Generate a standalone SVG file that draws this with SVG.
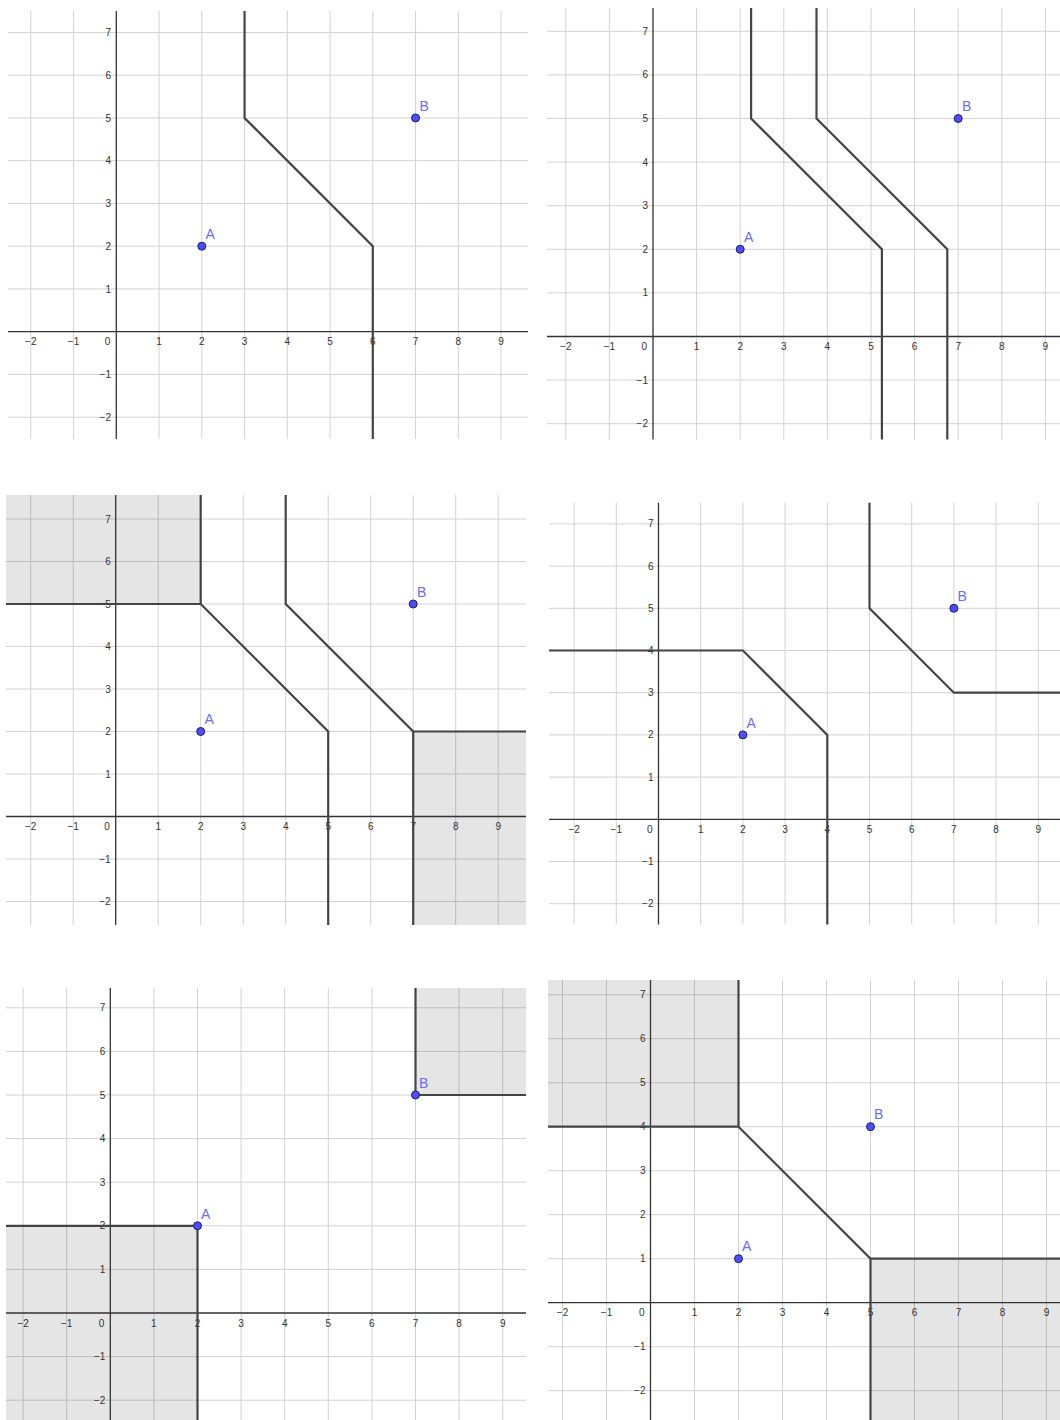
<svg xmlns="http://www.w3.org/2000/svg" width="1060" height="1420" viewBox="0 0 1060 1420">
<style>
.grid{fill:none;stroke:#d2d2d2;stroke-width:1}
.axis{fill:none;stroke:#333;stroke-width:1.3}
.curve{fill:none;stroke:#444;stroke-width:2.2;stroke-linejoin:miter}
.shade{fill:#000;fill-opacity:0.1;stroke:none}
.pt{fill:#4d4dff;stroke:#1c1c6e;stroke-width:1}
.tick{font-family:"Liberation Sans",Arial,sans-serif;font-size:10px;fill:#333}
.tx{text-anchor:middle}
.ty{text-anchor:end}
.lbl{font-family:"Liberation Sans",Arial,sans-serif;font-size:14px;fill:#6b6bff}
</style>
<rect width="1060" height="1420" fill="#fff"/>

<g id="panel1">
<path class="grid" d="M30.8 11V439M73.55 11V439M159.05 11V439M201.8 11V439M244.55 11V439M287.3 11V439M330.05 11V439M372.8 11V439M415.55 11V439M458.3 11V439M501.05 11V439M8 32.45H528M8 75.2H528M8 117.95H528M8 160.7H528M8 203.45H528M8 246.2H528M8 288.95H528M8 374.45H528M8 417.2H528"/>
<path class="axis" d="M8 331.7H528M116.3 11V439"/>
<g class="tick tx"><text x="30.8" y="345.2">−2</text><text x="73.55" y="345.2">−1</text><text x="159.05" y="345.2">1</text><text x="201.8" y="345.2">2</text><text x="244.55" y="345.2">3</text><text x="287.3" y="345.2">4</text><text x="330.05" y="345.2">5</text><text x="372.8" y="345.2">6</text><text x="415.55" y="345.2">7</text><text x="458.3" y="345.2">8</text><text x="501.05" y="345.2">9</text></g>
<g class="tick ty"><text x="110.3" y="345.2">0</text><text x="111" y="36">7</text><text x="111" y="78.7">6</text><text x="111" y="121.5">5</text><text x="111" y="164.2">4</text><text x="111" y="207">3</text><text x="111" y="249.7">2</text><text x="111" y="292.5">1</text><text x="111" y="378">−1</text><text x="111" y="420.7">−2</text></g>
<path class="curve" d="M244.55 11V117.95L372.8 246.2V439"/>
<circle class="pt" cx="201.8" cy="246.2" r="4"/><text class="lbl" x="205.5" y="239">A</text>
<circle class="pt" cx="415.55" cy="117.95" r="4"/><text class="lbl" x="419.5" y="110.5">B</text>
</g>

<g id="panel2">
<path class="grid" d="M565.8 8V439.5M609.4 8V439.5M696.6 8V439.5M740.2 8V439.5M783.8 8V439.5M827.4 8V439.5M871 8V439.5M914.6 8V439.5M958.2 8V439.5M1001.8 8V439.5M1045.4 8V439.5M547 31.3H1060M547 74.9H1060M547 118.5H1060M547 162.1H1060M547 205.7H1060M547 249.3H1060M547 292.9H1060M547 380.1H1060M547 423.7H1060"/>
<path class="axis" d="M547 336.5H1060M653 8V439.5"/>
<g class="tick tx"><text x="565.8" y="350">−2</text><text x="609.4" y="350">−1</text><text x="696.6" y="350">1</text><text x="740.2" y="350">2</text><text x="783.8" y="350">3</text><text x="827.4" y="350">4</text><text x="871" y="350">5</text><text x="914.6" y="350">6</text><text x="958.2" y="350">7</text><text x="1001.8" y="350">8</text><text x="1045.4" y="350">9</text></g>
<g class="tick ty"><text x="647" y="350">0</text><text x="648" y="34.8">7</text><text x="648" y="78.4">6</text><text x="648" y="122">5</text><text x="648" y="165.6">4</text><text x="648" y="209.2">3</text><text x="648" y="252.8">2</text><text x="648" y="296.4">1</text><text x="648" y="383.6">−1</text><text x="648" y="427.2">−2</text></g>
<path class="curve" d="M751.1 8V118.5L881.9 249.3V439.5"/>
<path class="curve" d="M816.5 8V118.5L947.3 249.3V439.5"/>
<circle class="pt" cx="740.2" cy="249.3" r="4"/><text class="lbl" x="744" y="242">A</text>
<circle class="pt" cx="958.2" cy="118.5" r="4"/><text class="lbl" x="962" y="111">B</text>
</g>

<g id="panel3">
<path class="grid" d="M30.7 495V925M73.2 495V925M158.2 495V925M200.7 495V925M243.2 495V925M285.7 495V925M328.2 495V925M370.7 495V925M413.2 495V925M455.7 495V925M498.2 495V925M6 519H526M6 561.5H526M6 604H526M6 646.5H526M6 689H526M6 731.5H526M6 774H526M6 859H526M6 901.5H526"/>
<rect class="shade" x="6" y="495" width="194.7" height="109"/>
<rect class="shade" x="413.2" y="731.5" width="112.8" height="193.5"/>
<path class="axis" d="M6 816.5H526M115.7 495V925"/>
<g class="tick tx"><text x="30.7" y="830">−2</text><text x="73.2" y="830">−1</text><text x="158.2" y="830">1</text><text x="200.7" y="830">2</text><text x="243.2" y="830">3</text><text x="285.7" y="830">4</text><text x="328.2" y="830">5</text><text x="370.7" y="830">6</text><text x="413.2" y="830">7</text><text x="455.7" y="830">8</text><text x="498.2" y="830">9</text></g>
<g class="tick ty"><text x="109.7" y="830">0</text><text x="110.7" y="522.5">7</text><text x="110.7" y="565">6</text><text x="110.7" y="607.5">5</text><text x="110.7" y="650">4</text><text x="110.7" y="692.5">3</text><text x="110.7" y="735">2</text><text x="110.7" y="777.5">1</text><text x="110.7" y="862.5">−1</text><text x="110.7" y="905">−2</text></g>
<path class="curve" d="M6 604H200.7V495"/>
<path class="curve" d="M200.7 604L328.2 731.5V925"/>
<path class="curve" d="M285.7 495V604L413.2 731.5V925"/>
<path class="curve" d="M413.2 731.5H526"/>
<circle class="pt" cx="200.7" cy="731.5" r="4"/><text class="lbl" x="204.5" y="724">A</text>
<circle class="pt" cx="413.2" cy="604" r="4"/><text class="lbl" x="417" y="596.5">B</text>
</g>

<g id="panel4">
<path class="grid" d="M574.1 502.7V924.5M616.3 502.7V924.5M700.7 502.7V924.5M742.9 502.7V924.5M785.1 502.7V924.5M827.3 502.7V924.5M869.5 502.7V924.5M911.7 502.7V924.5M953.9 502.7V924.5M996.1 502.7V924.5M1038.3 502.7V924.5M549 523.9H1060M549 566.1H1060M549 608.3H1060M549 650.5H1060M549 692.7H1060M549 734.9H1060M549 777.1H1060M549 861.5H1060M549 903.7H1060"/>
<path class="axis" d="M549 819.3H1060M658.5 502.7V924.5"/>
<g class="tick tx"><text x="574.1" y="832.8">−2</text><text x="616.3" y="832.8">−1</text><text x="700.7" y="832.8">1</text><text x="742.9" y="832.8">2</text><text x="785.1" y="832.8">3</text><text x="827.3" y="832.8">4</text><text x="869.5" y="832.8">5</text><text x="911.7" y="832.8">6</text><text x="953.9" y="832.8">7</text><text x="996.1" y="832.8">8</text><text x="1038.3" y="832.8">9</text></g>
<g class="tick ty"><text x="652.5" y="832.8">0</text><text x="653.5" y="527.4">7</text><text x="653.5" y="569.6">6</text><text x="653.5" y="611.8">5</text><text x="653.5" y="654">4</text><text x="653.5" y="696.2">3</text><text x="653.5" y="738.4">2</text><text x="653.5" y="780.6">1</text><text x="653.5" y="865">−1</text><text x="653.5" y="907.2">−2</text></g>
<path class="curve" d="M549 650.5H742.9L827.3 734.9V924.5"/>
<path class="curve" d="M869.5 502.7V608.3L953.9 692.7H1060"/>
<circle class="pt" cx="742.9" cy="734.9" r="4"/><text class="lbl" x="746.5" y="727.5">A</text>
<circle class="pt" cx="953.9" cy="608.3" r="4"/><text class="lbl" x="957.5" y="601">B</text>
</g>

<g id="panel5">
<path class="grid" d="M23.1 988V1420M66.7 988V1420M153.9 988V1420M197.5 988V1420M241.1 988V1420M284.7 988V1420M328.3 988V1420M371.9 988V1420M415.5 988V1420M459.1 988V1420M502.7 988V1420M6 1007.8H526M6 1051.4H526M6 1095H526M6 1138.6H526M6 1182.2H526M6 1225.8H526M6 1269.4H526M6 1356.6H526M6 1400.2H526"/>
<rect class="shade" x="6" y="1225.8" width="191.5" height="194.2"/>
<rect class="shade" x="415.5" y="988" width="110.5" height="107"/>
<path class="axis" d="M6 1313H526M110.3 988V1420"/>
<g class="tick tx"><text x="23.1" y="1326.5">−2</text><text x="66.7" y="1326.5">−1</text><text x="153.9" y="1326.5">1</text><text x="197.5" y="1326.5">2</text><text x="241.1" y="1326.5">3</text><text x="284.7" y="1326.5">4</text><text x="328.3" y="1326.5">5</text><text x="371.9" y="1326.5">6</text><text x="415.5" y="1326.5">7</text><text x="459.1" y="1326.5">8</text><text x="502.7" y="1326.5">9</text></g>
<g class="tick ty"><text x="104.3" y="1326.5">0</text><text x="105.3" y="1011.3">7</text><text x="105.3" y="1054.9">6</text><text x="105.3" y="1098.5">5</text><text x="105.3" y="1142.1">4</text><text x="105.3" y="1185.7">3</text><text x="105.3" y="1229.3">2</text><text x="105.3" y="1272.9">1</text><text x="105.3" y="1360.1">−1</text><text x="105.3" y="1403.7">−2</text></g>
<path class="curve" d="M6 1225.8H197.5V1420"/>
<path class="curve" d="M415.5 988V1095H526"/>
<circle class="pt" cx="197.5" cy="1225.8" r="4"/><text class="lbl" x="201" y="1218.5">A</text>
<circle class="pt" cx="415.5" cy="1095" r="4"/><text class="lbl" x="419" y="1087.5">B</text>
</g>

<g id="panel6">
<path class="grid" d="M562.5 980V1420M606.5 980V1420M694.5 980V1420M738.5 980V1420M782.5 980V1420M826.5 980V1420M870.5 980V1420M914.5 980V1420M958.5 980V1420M1002.5 980V1420M1046.5 980V1420M548 994.7H1060M548 1038.7H1060M548 1082.7H1060M548 1126.7H1060M548 1170.7H1060M548 1214.7H1060M548 1258.7H1060M548 1346.7H1060M548 1390.7H1060"/>
<rect class="shade" x="548" y="980" width="190.5" height="146.7"/>
<rect class="shade" x="870.5" y="1258.7" width="189.5" height="161.3"/>
<path class="axis" d="M548 1302.7H1060M650.5 980V1420"/>
<g class="tick tx"><text x="562.5" y="1316.2">−2</text><text x="606.5" y="1316.2">−1</text><text x="694.5" y="1316.2">1</text><text x="738.5" y="1316.2">2</text><text x="782.5" y="1316.2">3</text><text x="826.5" y="1316.2">4</text><text x="870.5" y="1316.2">5</text><text x="914.5" y="1316.2">6</text><text x="958.5" y="1316.2">7</text><text x="1002.5" y="1316.2">8</text><text x="1046.5" y="1316.2">9</text></g>
<g class="tick ty"><text x="644.5" y="1316.2">0</text><text x="645.5" y="998.2">7</text><text x="645.5" y="1042.2">6</text><text x="645.5" y="1086.2">5</text><text x="645.5" y="1130.2">4</text><text x="645.5" y="1174.2">3</text><text x="645.5" y="1218.2">2</text><text x="645.5" y="1262.2">1</text><text x="645.5" y="1350.2">−1</text><text x="645.5" y="1394.2">−2</text></g>
<path class="curve" d="M548 1126.7H738.5V980"/>
<path class="curve" d="M738.5 1126.7L870.5 1258.7V1420"/>
<path class="curve" d="M870.5 1258.7H1060"/>
<circle class="pt" cx="738.5" cy="1258.7" r="4"/><text class="lbl" x="742" y="1251">A</text>
<circle class="pt" cx="870.5" cy="1126.7" r="4"/><text class="lbl" x="874" y="1119">B</text>
</g>
</svg>
